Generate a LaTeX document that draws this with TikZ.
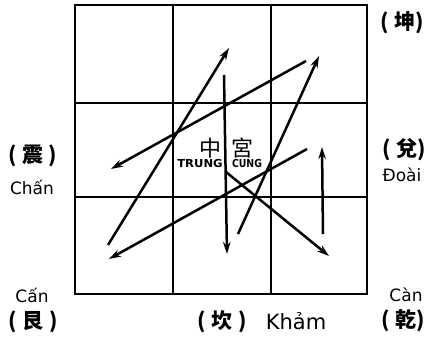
\documentclass[tikz,border=0pt]{standalone}
\usepackage{fontspec}
\setmainfont{DejaVu Sans}
\newfontfamily\cjk{Noto Sans CJK TC}
\usetikzlibrary{arrows.meta}
\begin{document}
\begin{tikzpicture}[x=1pt,y=-1pt,
  gridline/.style={line width=1.8pt,black},
  arr/.style={line width=2.5pt,black,-{Stealth[length=12pt,width=7.5pt]}},
  lbl/.style={inner sep=0pt,font=\fontsize{17}{17}\selectfont},
  zh/.style={inner sep=0pt,font=\cjk\bfseries\fontsize{21}{21}\selectfont}]
\useasboundingbox (0,0) rectangle (437,338);
% grid
\draw[gridline] (75,5) rectangle (367,294);
\draw[gridline] (173,5) -- (173,294);
\draw[gridline] (271,5) -- (271,294);
\draw[gridline] (75,103) -- (367,103);
\draw[gridline] (75,197) -- (367,197);
% arrow endpoints
\coordinate (s1) at (108,245); \coordinate (t1) at (229,48);
\coordinate (s2) at (306,61);  \coordinate (t2) at (111,169);
\coordinate (s3) at (224,75);  \coordinate (t3) at (227,254);
\coordinate (s4) at (238,234); \coordinate (t4) at (319,56);
\coordinate (s5) at (307,149); \coordinate (t5) at (109,259);
\coordinate (s6) at (226,172); \coordinate (t6) at (329,256);
\coordinate (s7) at (323,234); \coordinate (t7) at (322,147);
\draw[arr] (s1) -- (t1);
\draw[arr] (s2) -- (t2);
\draw[arr] (s3) -- (t3);
\draw[arr] (s4) -- (t4);
\draw[arr] (s5) -- (t5);
\draw[arr] (s6) -- (t6);
\draw[arr] (s7) -- (t7);
% centre
\node[zh,font=\cjk\fontsize{22}{22}\selectfont] (zhong) at (210,148) {中};
\node[zh,font=\cjk\fontsize{22}{22}\selectfont] (gong) at (242,148) {宮};
\node[inner sep=0pt,font=\fontsize{11}{11}\selectfont\bfseries,xscale=1.05] (trung) at (200,163) {TRUNG};
\node[inner sep=0pt,font=\fontsize{11}{11}\selectfont\bfseries,xscale=0.85] (cung) at (247,163.5) {CUNG};
% outer labels
\node[zh] (khon) at (402,23) {(\hspace{6pt}坤)};
\node[zh] (chanzh) at (33,156) {(\hspace{6pt}震\hspace{5pt})};
\node[lbl] (chan) at (32,187) {Chấn};
\node[zh] (doaizh) at (404,150) {(\hspace{6pt}兌)};
\node[lbl] (doai) at (402,175) {Đoài};
\node[lbl] (can1) at (32,295) {Cấn};
\node[zh] (canzh) at (33,322) {(\hspace{6pt}艮\hspace{6pt})};
\node[zh] (khamzh) at (222,322) {(\hspace{6pt}坎\hspace{6pt})};
\node[lbl,font=\fontsize{21}{21}\selectfont] (kham) at (296,321) {Khảm};
\node[lbl] (can2) at (406,295) {Càn};
\node[zh] (canzh2) at (403,321) {(\hspace{6pt}乾)};
\end{tikzpicture}
\end{document}
